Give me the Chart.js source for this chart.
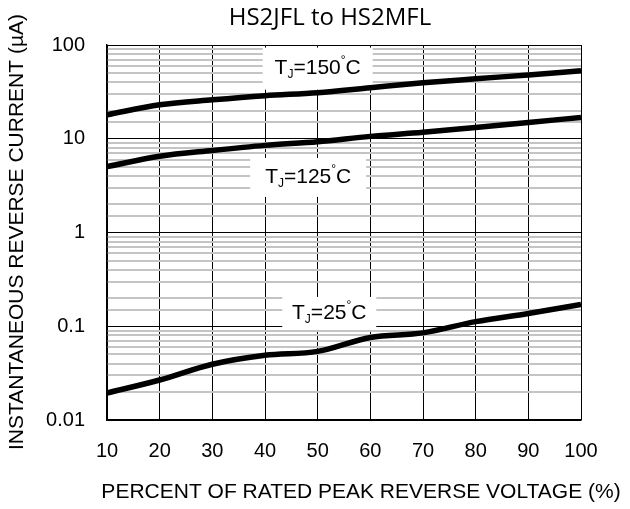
<!DOCTYPE html>
<html lang="en">
<head>
    <meta charset="UTF-8">
    <title>HS2JFL to HS2MFL</title>
    <script src="https://cdn.jsdelivr.net/npm/chart.js"></script>
    <style>
        html, body { margin: 0; padding: 0; background: #fff; }
        #wrap { width: 630px; height: 509px; }
    </style>
</head>
<body>
    <div id="wrap"><canvas id="leakChart" width="630" height="509"></canvas></div>

    <script>
        // percent of rated peak reverse voltage
        const voltagePct = [10, 20, 30, 40, 50, 60, 70, 80, 90, 100];

        // reverse current in uA
        const current150 = [18, 23, 26, 28.8, 31, 35, 39.5, 43.6, 48, 53];
        const current125 = [5.05, 6.5, 7.5, 8.5, 9.3, 10.6, 11.7, 13.2, 14.9, 16.9];
        const current25 = [0.0194, 0.0267, 0.0393, 0.049, 0.054, 0.076, 0.085, 0.112, 0.137, 0.171];

        const yTickLabels = ["0.01", "0.1", "1", "10", "100"];

        // temperature labels: [temp, x value, y value, box width, box height]
        const curveLabels = [
            ["150", 50, 56, 110, 42],
            ["125", 48.2, 3.87, 116, 39],
            ["25", 52.2, 0.137, 94, 33]
        ];

        function isDecade(v) {
            const l = Math.log10(v);
            return Math.abs(l - Math.round(l)) < 1e-6;
        }

        // white boxes with T_J=xxx°C drawn over the grid, under the curves
        const labelPlugin = {
            id: "tjLabels",
            beforeDatasetsDraw(chart) {
                const ctx = chart.ctx;
                const xs = chart.scales.x, ys = chart.scales.y;
                ctx.save();
                curveLabels.forEach(([t, xv, yv, w, h]) => {
                    const cx = xs.getPixelForValue(xv);
                    const cy = ys.getPixelForValue(yv);
                    ctx.fillStyle = "#fff";
                    ctx.fillRect(cx - w / 2, cy - h / 2, w, h);

                    const big = "21px 'Liberation Sans', Arial, sans-serif";
                    const small = "12px 'Liberation Sans', Arial, sans-serif";
                    const parts = [
                        ["T", big, 0], ["J", small, 6], ["=" + t, big, 0],
                        ["\u00b0", small, -8], ["C", big, 0]
                    ];
                    let total = 0;
                    parts.forEach(p => { ctx.font = p[1]; total += ctx.measureText(p[0]).width; });
                    let x = cx - total / 2;
                    ctx.fillStyle = "#000";
                    ctx.textBaseline = "middle";
                    ctx.textAlign = "left";
                    parts.forEach(p => {
                        ctx.font = p[1];
                        ctx.fillText(p[0], x, cy + p[2]);
                        x += ctx.measureText(p[0]).width;
                    });
                });
                ctx.restore();
            },
            afterDraw(chart) {
                const ctx = chart.ctx;
                ctx.save();
                ctx.fillStyle = "#000";
                ctx.textAlign = "center";
                ctx.textBaseline = "middle";
                ctx.font = "24px 'Open Sans', sans-serif";
                ctx.fillText("HS2JFL to HS2MFL", 330, 18, 215);
                ctx.font = "21px 'Liberation Sans', Arial, sans-serif";
                ctx.fillText("PERCENT OF RATED PEAK REVERSE VOLTAGE (%)", 361, 492, 528);
                ctx.translate(17, 232);
                ctx.rotate(-Math.PI / 2);
                ctx.font = "21px 'Liberation Sans', Arial, sans-serif";
                ctx.fillText("INSTANTANEOUS REVERSE CURRENT (\u00b5A)", 0, 0, 443);
                ctx.restore();
            }
        };

        const lineStyle = {
            borderColor: "#000",
            borderWidth: 5.5,
            pointRadius: 0,
            cubicInterpolationMode: "monotone",
            fill: false
        };

        const ctx = document.getElementById("leakChart").getContext("2d");
        new Chart(ctx, {
            type: "line",
            data: {
                labels: voltagePct,
                datasets: [
                    Object.assign({ label: "TJ=150", data: current150 }, lineStyle),
                    Object.assign({ label: "TJ=125", data: current125 }, lineStyle),
                    Object.assign({ label: "TJ=25", data: current25 }, lineStyle)
                ]
            },
            options: {
                responsive: false,
                animation: false,
                layout: { padding: { left: 0, right: 49, top: 45, bottom: 0 } },
                plugins: {
                    legend: { display: false },
                    tooltip: { enabled: false },
                    title: { display: false }
                },
                scales: {
                    x: {
                        type: "linear",
                        min: 10,
                        max: 100,
                        afterFit(s) { s.height = 89; },
                        border: { color: "#000", width: 1.5 },
                        grid: { color: "#000", lineWidth: 1, drawTicks: false },
                        ticks: {
                            stepSize: 10,
                            padding: 19,
                            color: "#000",
                            font: { family: "'Liberation Sans', Arial, sans-serif", size: 20 }
                        }
                    },
                    y: {
                        type: "logarithmic",
                        min: 0.01,
                        max: 100,
                        afterFit(s) { s.width = 107; },
                        border: { color: "#000", width: 1.5 },
                        grid: {
                            drawTicks: false,
                            color: c => isDecade(c.tick.value) ? "#000" : "#c4c4c4",
                            lineWidth: c => isDecade(c.tick.value) ? 1 : 2
                        },
                        ticks: {
                            autoSkip: false,
                            padding: 22,
                            color: "#000",
                            font: { family: "'Liberation Sans', Arial, sans-serif", size: 20 },
                            callback: v => isDecade(v) ? yTickLabels[Math.round(Math.log10(v)) + 2] : ""
                        }
                    }
                }
            },
            plugins: [labelPlugin]
        });
    </script>
</body>
</html>
